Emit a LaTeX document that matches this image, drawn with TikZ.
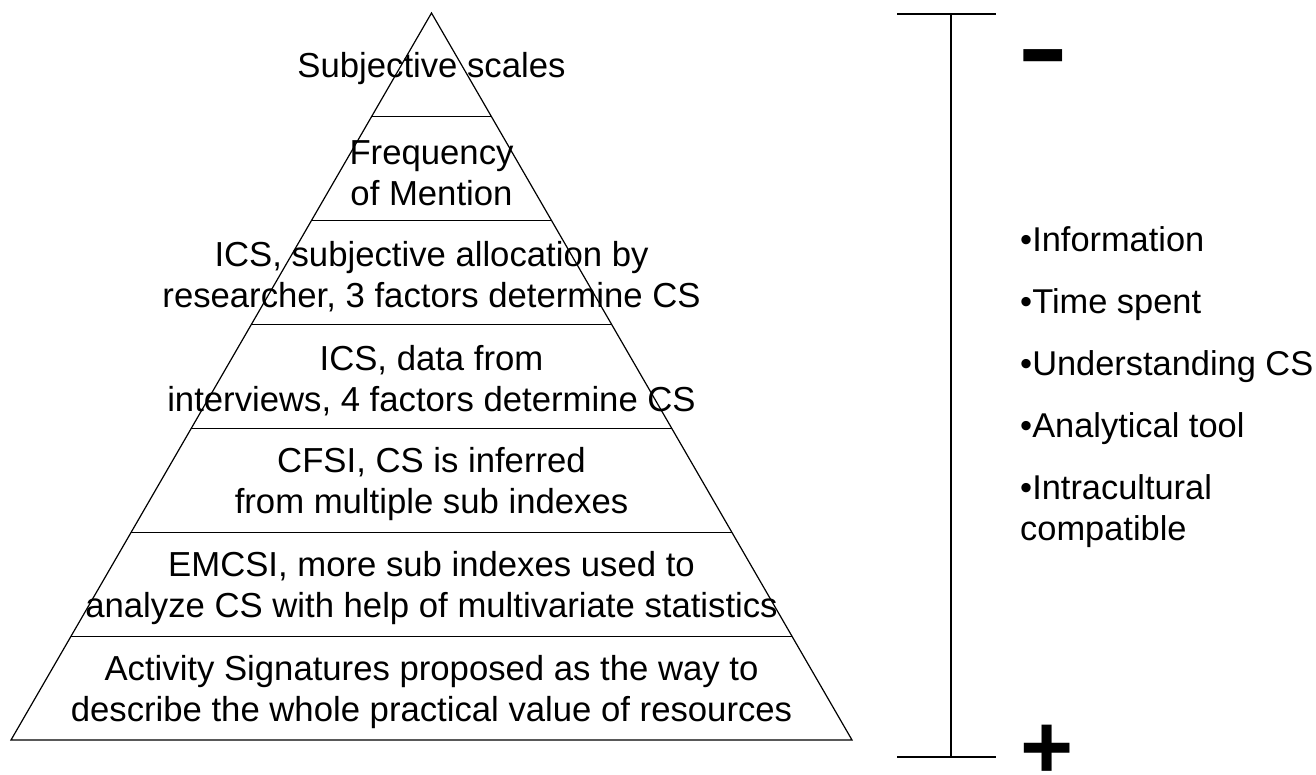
\documentclass[tikz,border=0pt]{standalone}
\usepackage{fontspec}
\setmainfont{Liberation Sans}
\usetikzlibrary{calc}
\begin{document}
\begin{tikzpicture}[x=1pt,y=-1pt,
  edge/.style={line width=1.2pt, black},
  band/.style={align=center, inner sep=0pt, font=\fontsize{34.7}{41}\selectfont},
  items/.style={align=left, inner sep=0pt, font=\fontsize{34.4}{41}\selectfont, anchor=north west},
  sign/.style={inner sep=0pt, font=\bfseries\fontsize{91}{91}\selectfont}]
\useasboundingbox (0,0) rectangle (1316,774);
% pyramid
\coordinate (A) at (431.5,13);
\coordinate (BL) at (11,740);
\coordinate (BR) at (852,740);
\draw[edge] (A) -- (BL) -- (BR) -- cycle;
\foreach \k in {1,...,6} \draw[edge] ($(A)!\k/7!(BL)$) -- ($(A)!\k/7!(BR)$);
\node[band] (b1) at (431.5,68.9) {Subjective scales};
\node[band] (b2) at (431.5,172.8) {Frequency\\of Mention};
\node[band] (b3) at (431.5,276.6) {ICS, subjective allocation by\\researcher, 3 factors determine CS};
\node[band] (b4) at (431.5,380.5) {ICS, data from\\interviews, 4 factors determine CS};
\node[band] (b5) at (431.5,484.4) {CFSI, CS is inferred\\from multiple sub indexes};
\node[band] (b6) at (431.5,588.3) {EMCSI, more sub indexes used to\\analyze CS with help of multivariate statistics};
\node[band] (b7) at (431.5,692.1) {Activity Signatures proposed as the way to\\describe the whole practical value of resources};
% scale bar
\coordinate (T) at (951,14);
\coordinate (B) at (951,757);
\coordinate (TL) at (897,14);
\coordinate (TR) at (996,14);
\coordinate (BLL) at (897,757);
\coordinate (BRR) at (996,757);
\draw[edge] (TL) -- (TR);
\draw[edge] (BLL) -- (BRR);
\draw[edge] (T) -- (B);
\node[sign] (minus) at (1043,69.5) {\scalebox{1.15}[1.8]{\fontsize{68}{68}\selectfont –}};
\node[sign] (plus) at (1047,750.5) {\raisebox{0pt}[0.61em][-0.11em]{+}};
% list
\node[items] (list) at (1020,226) {•Information\\[21pt]•Time spent\\[21pt]•Understanding CS\\[21pt]•Analytical tool\\[21pt]•Intracultural\\compatible};
\end{tikzpicture}
\end{document}
